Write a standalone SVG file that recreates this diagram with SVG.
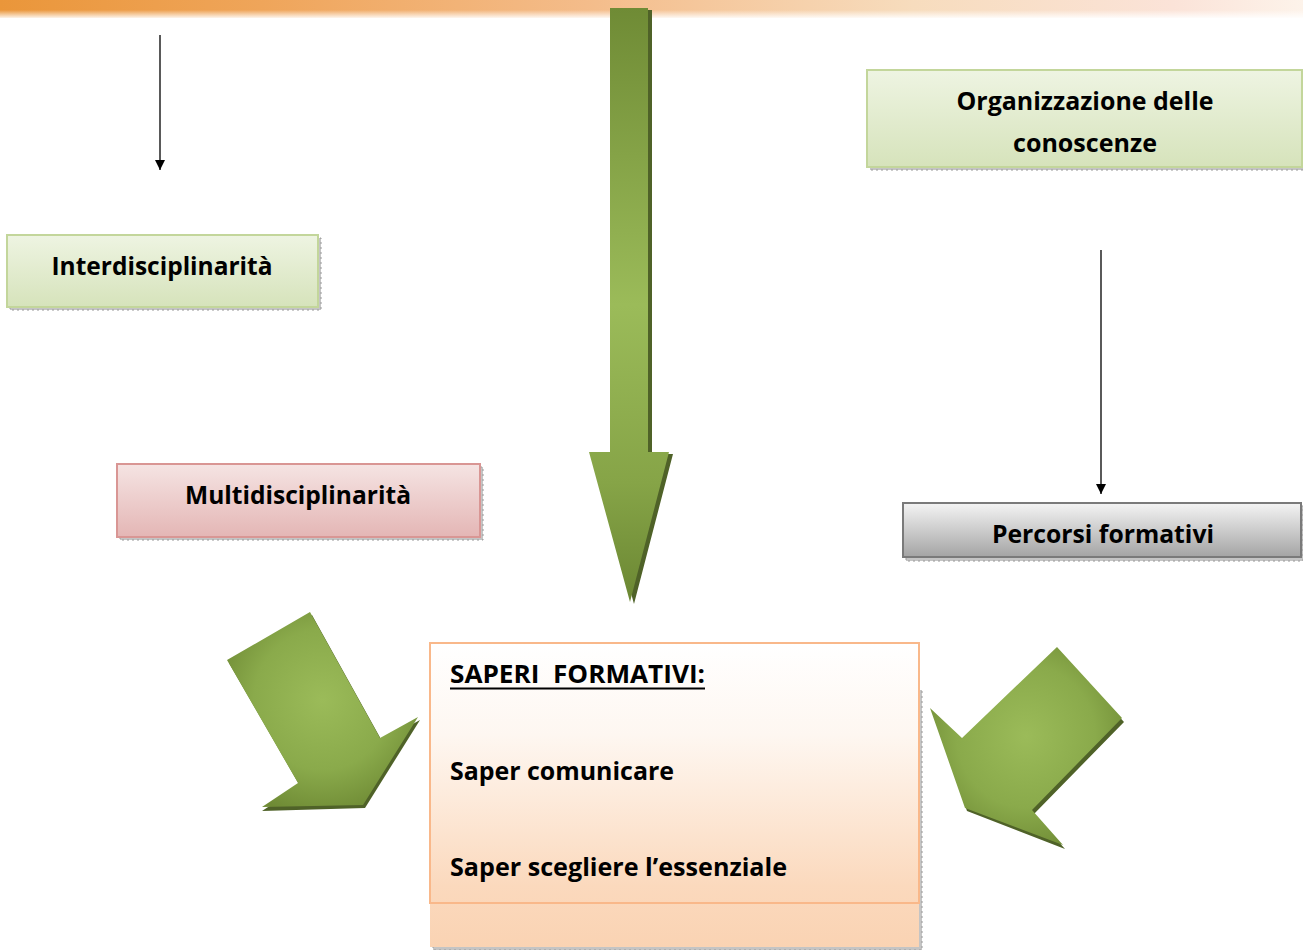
<svg xmlns="http://www.w3.org/2000/svg" width="1303" height="950" viewBox="0 0 1303 950">
<defs>
<style>
.t{font-family:"Open Sans","Liberation Sans",sans-serif;font-weight:bold;font-size:25px;fill:#000}
.sh{fill:#c4c4c4;stroke:#9a9a9a;stroke-width:1;stroke-dasharray:2 3}
.thin{stroke:#000;stroke-width:1.3;fill:none}
</style>
<linearGradient id="band" x1="0" y1="0" x2="1" y2="0">
<stop offset="0" stop-color="#ea963a"/>
<stop offset="0.2" stop-color="#efa55a"/>
<stop offset="0.45" stop-color="#f4bc8a"/>
<stop offset="0.7" stop-color="#f7dcbd"/>
<stop offset="0.9" stop-color="#fbe3d8"/>
<stop offset="1" stop-color="#fdf3ea"/>
</linearGradient>
<linearGradient id="fade" x1="0" y1="0" x2="0" y2="1">
<stop offset="0" stop-color="#fff" stop-opacity="0"/>
<stop offset="1" stop-color="#fff" stop-opacity="1"/>
</linearGradient>
<linearGradient id="green" x1="0" y1="0" x2="0" y2="1">
<stop offset="0" stop-color="#eef4e2"/>
<stop offset="1" stop-color="#d6e3bb"/>
</linearGradient>
<linearGradient id="pink" x1="0" y1="0" x2="0" y2="1">
<stop offset="0" stop-color="#f5e4e3"/>
<stop offset="1" stop-color="#e4b6b5"/>
</linearGradient>
<linearGradient id="gray" x1="0" y1="0" x2="0" y2="1">
<stop offset="0" stop-color="#f4f4f4"/>
<stop offset="1" stop-color="#a4a4a4"/>
</linearGradient>
<linearGradient id="peach" x1="0" y1="0" x2="0" y2="1">
<stop offset="0" stop-color="#ffffff"/>
<stop offset="0.3" stop-color="#fef7f1"/>
<stop offset="0.8" stop-color="#fbd9bd"/>
<stop offset="1" stop-color="#fad3b3"/>
</linearGradient>
<linearGradient id="bigArrow" x1="0" y1="0" x2="0" y2="1">
<stop offset="0" stop-color="#6f8b35"/>
<stop offset="0.5" stop-color="#9bbb59"/>
<stop offset="0.8" stop-color="#86a447"/>
<stop offset="1" stop-color="#6b8733"/>
</linearGradient>
<radialGradient id="diag" cx="0.5" cy="0.45" r="0.6">
<stop offset="0" stop-color="#9bbb59"/>
<stop offset="0.6" stop-color="#8aaa4b"/>
<stop offset="1" stop-color="#6f8b35"/>
</radialGradient>
<marker id="ah" viewBox="0 0 10 10" refX="10" refY="5" markerWidth="10" markerHeight="12" markerUnits="userSpaceOnUse" orient="auto">
<path d="M0,0 L10,5 L0,10 z" fill="#000"/>
</marker>
</defs>

<rect x="0" y="0" width="1303" height="18" fill="url(#band)"/>
<rect x="0" y="10" width="1303" height="9" fill="url(#fade)"/>

<g id="connectors">
<line class="thin" x1="160" y1="35" x2="160" y2="170" marker-end="url(#ah)"/>
<line class="thin" x1="1101" y1="250" x2="1101" y2="494" marker-end="url(#ah)"/>
<g id="big-arrow">
<polygon points="614,10 652,10 652,454 673,454 634,604 593,454 614,454" fill="#4f6228"/>
<polygon points="610,8 648,8 648,452 669,452 630,602 589,452 610,452" fill="url(#bigArrow)"/>
</g>
<g id="left-arrow">
<polygon points="229,663 312,615 382,741 420,720 365,808 262,811 300,786" fill="#4f6228"/>
<polygon points="227,660 310,612 380,738 418,717 363,805 262,807 298,783" fill="url(#diag)"/>
</g>
<g id="right-arrow">
<polygon points="1059,651 1124,722 1034,814 1065,849 967,811 932,711 964,741" fill="#4f6228"/>
<polygon points="1057,647 1122,718 1032,810 1063,845 965,808 930,708 962,738" fill="url(#diag)"/>
</g>
</g>

<g id="node-interdisciplinarita">
<rect class="sh" x="10" y="238" width="311" height="72"/>
<rect x="7" y="235" width="311" height="72" fill="url(#green)" stroke="#c3d69b" stroke-width="2"/>
<text class="t" x="162" y="275" text-anchor="middle" textLength="221" lengthAdjust="spacingAndGlyphs">Interdisciplinarità</text>
</g>

<g id="node-organizzazione">
<rect class="sh" x="870" y="73" width="433" height="97"/>
<rect x="867" y="70" width="435" height="97" fill="url(#green)" stroke="#c3d69b" stroke-width="2"/>
<text class="t" x="1085" y="110" text-anchor="middle" textLength="257" lengthAdjust="spacingAndGlyphs">Organizzazione delle</text>
<text class="t" x="1085" y="152" text-anchor="middle" textLength="144" lengthAdjust="spacingAndGlyphs">conoscenze</text>
</g>

<g id="node-multidisciplinarita">
<rect class="sh" x="120" y="467" width="363" height="73"/>
<rect x="117" y="464" width="363" height="73" fill="url(#pink)" stroke="#d99694" stroke-width="2"/>
<text class="t" x="298" y="504" text-anchor="middle" textLength="226" lengthAdjust="spacingAndGlyphs">Multidisciplinarità</text>
</g>

<g id="node-percorsi">
<rect class="sh" x="906" y="506" width="397" height="55"/>
<rect x="903" y="503" width="398" height="54" fill="url(#gray)" stroke="#7a7a7a" stroke-width="2"/>
<text class="t" x="1103" y="543" text-anchor="middle" textLength="222" lengthAdjust="spacingAndGlyphs">Percorsi formativi</text>
</g>

<g id="node-saperi">
<rect class="sh" x="433" y="690" width="489" height="260"/>
<rect x="430" y="643" width="489" height="304" fill="url(#peach)"/>
<rect x="430" y="643" width="489" height="260" fill="none" stroke="#f9b88a" stroke-width="2"/>
<text class="t" x="450" y="683" textLength="255" lengthAdjust="spacingAndGlyphs" xml:space="preserve">SAPERI  FORMATIVI:</text>
<line x1="450" y1="688.5" x2="705" y2="688.5" stroke="#000" stroke-width="2"/>
<text class="t" x="450" y="780" textLength="224" lengthAdjust="spacingAndGlyphs">Saper comunicare</text>
<text class="t" x="450" y="876" textLength="337" lengthAdjust="spacingAndGlyphs">Saper scegliere l’essenziale</text>
</g>
</svg>
